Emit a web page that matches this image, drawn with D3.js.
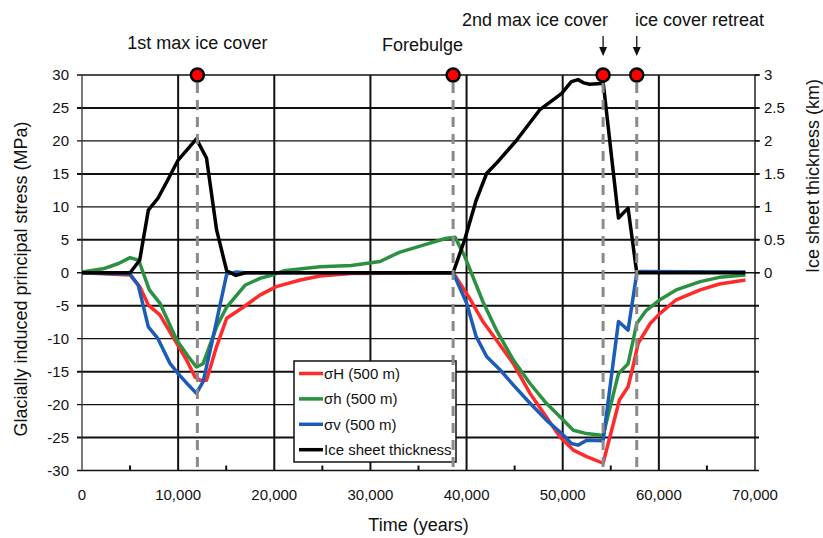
<!DOCTYPE html>
<html>
<head>
<meta charset="utf-8">
<script src="https://cdn.jsdelivr.net/npm/d3@7"></script>
<style>
  body { margin: 0; background: #fff; }
  svg { font-family: "Liberation Sans", Arial, sans-serif; }
</style>
</head>
<body>
<div id="chart"></div>
<script>
// Ice sheet thickness (km) over time (years)
var iceTime = [0, 5000, 6000, 6900, 7900, 9000, 10000, 10900, 11900, 12950, 14000, 15050, 16000, 17000,
    38600, 39800, 41000, 42100, 43100, 45200, 47600, 49900, 50900, 51600, 52200, 52800, 54000, 54200,
    55800, 56800, 57700, 69000];
var iceThickness = [0, 0, 0.19, 0.95, 1.13, 1.43, 1.71, 1.86, 2.03, 1.74, 0.65, 0.03, -0.04, 0,
    0, 0.5, 1.1, 1.51, 1.66, 2.01, 2.47, 2.72, 2.9, 2.93, 2.88, 2.86, 2.87, 2.9,
    0.83, 0.98, 0, 0];

// sigma H (500 m), MPa
var sHTime = [0, 5000, 6000, 6900, 8100, 9850, 10900, 11750, 12300, 12950, 14000, 15050, 16800, 18500,
    20200, 22700, 24750, 28000, 38600, 40200, 41700, 43100, 44850, 46600, 48300, 49700, 51100, 52500,
    54200, 55900, 56800, 57300, 57850, 59100, 60100, 61800, 64300, 66300, 69000];
var sigmaH = [0, -0.35, -2.1, -4.9, -6.4, -10.7, -13.3, -15.8, -16.3, -16.3, -11.2, -6.9, -5.2, -3.4,
    -2.1, -1.1, -0.5, -0.1, 0, -3.6, -7.4, -10.2, -13.75, -18.3, -21.9, -24.9, -26.9, -27.9,
    -28.9, -19.3, -17.3, -14.3, -10.7, -7.7, -6.2, -4.1, -2.6, -1.7, -1.1];

// sigma h (500 m), MPa
var shTime = [0, 2200, 3800, 5000, 5900, 7000, 8100, 9850, 11050, 11900, 12600, 14000, 15050, 16950,
    18500, 19900, 21000, 24750, 28000, 31000, 33000, 35500, 37800, 38800, 39800, 41700, 43100, 44850,
    46600, 48300, 49900, 51100, 52500, 54200, 55800, 56800, 57700, 58700, 60100, 61800, 64300, 66300, 69000];
var sigmah = [0.1, 0.6, 1.4, 2.3, 1.9, -2.6, -4.6, -10.2, -12.7, -14.3, -13.8, -8.2, -5.2, -1.9,
    -0.85, -0.3, 0.3, 0.9, 1.1, 1.7, 3.1, 4.2, 5.2, 5.4, 2.5, -4.4, -8.7, -13.2,
    -16.8, -19.8, -22.1, -23.9, -24.4, -24.7, -15.3, -13.8, -7.7, -5.7, -4.1, -2.6, -1.35, -0.7, -0.35];

// sigma v (500 m), MPa
var svTime = [0, 5000, 5850, 6900, 7900, 9150, 10000, 11050, 11900, 12600, 13650, 15050, 16000, 17000,
    38600, 40000, 41000, 42100, 43500, 44850, 46600, 48300, 49900, 50900, 51600, 52500, 54200,
    55800, 56800, 57700, 58000, 69000];
var sigmav = [0, -0.2, -1.9, -8.2, -10, -13.75, -15.3, -17, -18.3, -16.5, -9.7, -0.2, 0.1, 0,
    0, -4.6, -9.7, -12.75, -14.75, -17, -19.8, -22.35, -24.4, -25.9, -26.15, -25.4, -25.5,
    -7.4, -8.7, -0.1, 0.2, 0.1];

// Events marked with red dots and dashed lines
var eventTimes = [12000, 38600, 54200, 57700];

var xTicks = [0, 10000, 20000, 30000, 40000, 50000, 60000, 70000];
var xMinorTicks = [5000, 15000, 25000, 35000, 45000, 55000, 65000];
var yTicks = [30, 25, 20, 15, 10, 5, 0, -5, -10, -15, -20, -25, -30];
var iceTicks = [0, 0.5, 1, 1.5, 2, 2.5, 3];

var legendLabels = ["\u03c3H (500 m)", "\u03c3h (500 m)", "\u03c3v (500 m)", "Ice sheet thickness"];
var seriesColors = ["#ff2b2b", "#2b9140", "#1c5cb8", "#000000"];

var W = 823, H = 538;
var svg = d3.select("#chart").append("svg")
    .attr("width", W)
    .attr("height", H);

// scales
var x = d3.scaleLinear().domain([0, 70000]).range([82, 755]);
var y = d3.scaleLinear().domain([-30, 30]).range([470.5, 75]);
var yIce = d3.scaleLinear().domain([0, 3]).range([y(0), y(30)]);

// horizontal grid lines
svg.append("g").selectAll("line")
    .data(yTicks)
    .enter().append("line")
        .attr("x1", x(0) - 5)
        .attr("x2", x(70000) + 4)
        .attr("y1", function(d){ return y(d); })
        .attr("y2", function(d){ return y(d); })
        .attr("stroke", "#111")
        .attr("stroke-width", function(d){ return d % 10 === 0 ? 1.4 : 2; });

// vertical grid lines
svg.append("g").selectAll("line")
    .data(xTicks.slice(1))
    .enter().append("line")
        .attr("x1", function(d){ return x(d); })
        .attr("x2", function(d){ return x(d); })
        .attr("y1", y(30))
        .attr("y2", y(-30))
        .attr("stroke", "#111")
        .attr("stroke-width", function(d){ return d === 70000 ? 1.4 : 2; });

// left axis line
svg.append("line")
    .attr("x1", x(0)).attr("x2", x(0))
    .attr("y1", y(30)).attr("y2", y(-30))
    .attr("stroke", "#333").attr("stroke-width", 1.3);

// minor ticks on x axis
svg.append("g").selectAll("line")
    .data(xMinorTicks)
    .enter().append("line")
        .attr("x1", function(d){ return x(d); })
        .attr("x2", function(d){ return x(d); })
        .attr("y1", y(-30))
        .attr("y2", y(-30) - 5)
        .attr("stroke", "#111")
        .attr("stroke-width", 2);

// x tick labels
svg.append("g").selectAll("text")
    .data(xTicks)
    .enter().append("text")
        .attr("x", function(d){ return x(d); })
        .attr("y", 500)
        .attr("text-anchor", "middle")
        .attr("font-size", "15px")
        .attr("fill", "#111")
        .text(d3.format(","));

// left tick labels
svg.append("g").selectAll("text")
    .data(yTicks)
    .enter().append("text")
        .attr("x", 69)
        .attr("y", function(d){ return y(d); })
        .attr("dy", "0.35em")
        .attr("text-anchor", "end")
        .attr("font-size", "15px")
        .attr("fill", "#111")
        .text(function(d){ return d; });

// right axis ticks and labels (ice thickness)
var rightAxis = svg.append("g");
rightAxis.selectAll("line")
    .data(iceTicks)
    .enter().append("line")
        .attr("x1", x(70000))
        .attr("x2", x(70000) + 5)
        .attr("y1", function(d){ return yIce(d); })
        .attr("y2", function(d){ return yIce(d); })
        .attr("stroke", "#111")
        .attr("stroke-width", 1.4);
rightAxis.selectAll("text")
    .data(iceTicks)
    .enter().append("text")
        .attr("x", 764)
        .attr("y", function(d){ return yIce(d); })
        .attr("dy", "0.35em")
        .attr("font-size", "15px")
        .attr("fill", "#111")
        .text(function(d){ return d; });

// axis titles
svg.append("text")
    .attr("x", (x(0) + x(70000)) / 2)
    .attr("y", 531)
    .attr("text-anchor", "middle")
    .attr("font-size", "18px")
    .attr("fill", "#111")
    .text("Time (years)");

svg.append("text")
    .attr("transform", "translate(27, 279) rotate(-90)")
    .attr("text-anchor", "middle")
    .attr("font-size", "18px")
    .attr("fill", "#111")
    .text("Glacially induced principal stress (MPa)");

svg.append("text")
    .attr("transform", "translate(819, 176) rotate(-90)")
    .attr("text-anchor", "middle")
    .attr("font-size", "18px")
    .attr("fill", "#111")
    .text("Ice sheet thickness (km)");

// series lines
var stressLine = function(times, vals){
    return d3.line()
        .x(function(d, i){ return x(times[i]); })
        .y(function(d){ return y(d); })(vals);
};
var iceLine = d3.line()
    .x(function(d, i){ return x(iceTime[i]); })
    .y(function(d){ return yIce(d); });

var series = [
    {t: sHTime, v: sigmaH},
    {t: shTime, v: sigmah},
    {t: svTime, v: sigmav}
];
series.forEach(function(s, i){
    svg.append("path")
        .attr("d", stressLine(s.t, s.v))
        .attr("fill", "none")
        .attr("stroke", seriesColors[i])
        .attr("stroke-width", 3.5)
        .attr("stroke-linejoin", "round");
});
svg.append("path")
    .attr("d", iceLine(iceThickness))
    .attr("fill", "none")
    .attr("stroke", seriesColors[3])
    .attr("stroke-width", 3.5)
    .attr("stroke-linejoin", "round");

// legend
var legend = svg.append("g").attr("transform", "translate(294, 361)");
legend.append("rect")
    .attr("width", 162)
    .attr("height", 101)
    .attr("fill", "#fff")
    .attr("stroke", "#111")
    .attr("stroke-width", 1.5);
legendLabels.forEach(function(label, i){
    var row = legend.append("g").attr("transform", "translate(0, " + (12.5 + i * 25.4) + ")");
    row.append("line")
        .attr("x1", 5).attr("x2", 29)
        .attr("y1", 0).attr("y2", 0)
        .attr("stroke", seriesColors[i])
        .attr("stroke-width", 3.5);
    row.append("text")
        .attr("x", 30)
        .attr("y", 0)
        .attr("dy", "0.35em")
        .attr("font-size", "15px")
        .attr("fill", "#111")
        .text(label);
});

// dashed event lines and dots
svg.append("g").selectAll("line")
    .data(eventTimes)
    .enter().append("line")
        .attr("x1", function(d){ return x(d); })
        .attr("x2", function(d){ return x(d); })
        .attr("y1", y(30) + 8)
        .attr("y2", y(-30))
        .attr("stroke", "#8a8a8a")
        .attr("stroke-width", 3)
        .attr("stroke-dasharray", "10,7");

svg.append("g").selectAll("circle")
    .data(eventTimes)
    .enter().append("circle")
        .attr("cx", function(d){ return x(d); })
        .attr("cy", y(30))
        .attr("r", 6.5)
        .attr("fill", "#ff0000")
        .attr("stroke", "#000")
        .attr("stroke-width", 2.5);

// annotations
svg.append("text")
    .attr("x", x(eventTimes[0]))
    .attr("y", 49)
    .attr("text-anchor", "middle")
    .attr("font-size", "18px")
    .attr("fill", "#111")
    .text("1st max ice cover");

svg.append("text")
    .attr("x", 463)
    .attr("y", 51)
    .attr("text-anchor", "end")
    .attr("font-size", "18px")
    .attr("fill", "#111")
    .text("Forebulge");

svg.append("text")
    .attr("x", 608)
    .attr("y", 26)
    .attr("text-anchor", "end")
    .attr("font-size", "18px")
    .attr("fill", "#111")
    .text("2nd max ice cover");

svg.append("text")
    .attr("x", 635)
    .attr("y", 26)
    .attr("text-anchor", "start")
    .attr("font-size", "18px")
    .attr("fill", "#111")
    .text("ice cover retreat");

// arrows
[eventTimes[2], eventTimes[3]].forEach(function(t){
    var ax = x(t);
    svg.append("line")
        .attr("x1", ax).attr("x2", ax)
        .attr("y1", 36).attr("y2", 50)
        .attr("stroke", "#111")
        .attr("stroke-width", 1.3);
    svg.append("path")
        .attr("d", "M" + (ax - 4) + ",47 L" + (ax + 4) + ",47 L" + ax + ",56 Z")
        .attr("fill", "#111");
});
</script>
</body>
</html>
